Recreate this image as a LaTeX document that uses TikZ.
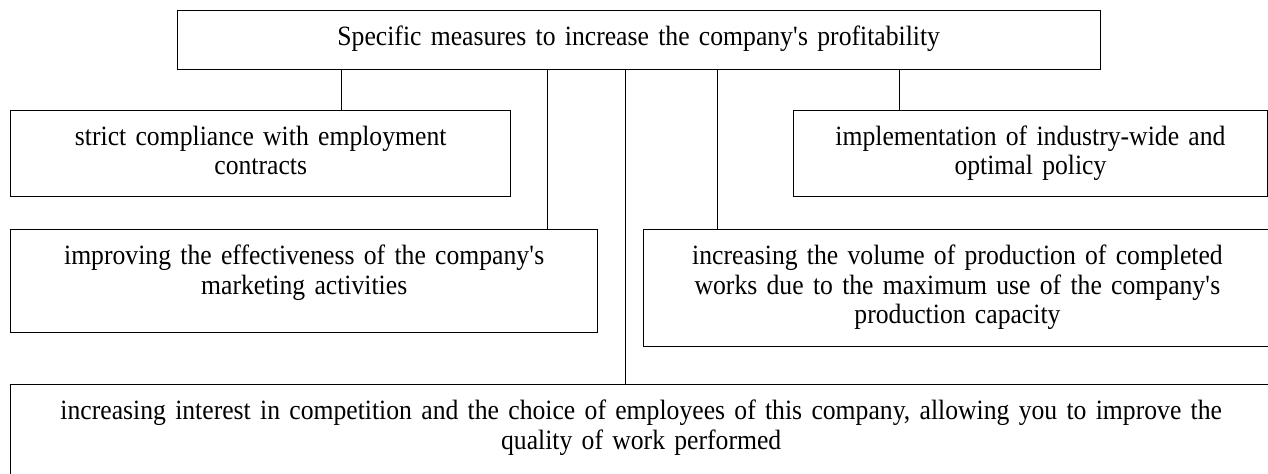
\documentclass[tikz,border=0pt]{standalone}
\usepackage{fontspec}
\setmainfont{Liberation Serif}[FakeStretch=0.92,WordSpace=0.82]
\usetikzlibrary{positioning}
\tikzset{
    %Define style for boxes, text hung from the top edge
    blok/.style 2 args={
           rectangle,
           draw=black, line width=0.7pt,
           anchor=north west,
           inner sep=0pt,
           text width=#1,
           text height=17.5pt,
           text depth=#2,
           align=center,
           font=\fontsize{13.95pt}{14.75pt}\selectfont},
    % Define line style
    lin/.style={
           line width=0.6pt}
}
\begin{document}
\begin{tikzpicture}
    \useasboundingbox (0,0) rectangle (634pt,-236.5pt);
    \node (measures) [blok={461.5pt}{12.25pt}] at (88.25pt,-4.75pt)
          {Specific measures to increase the company\textquotesingle s profitability};
    \node (strict) [blok={250pt}{25.5pt}] at (5pt,-54.75pt)
          {strict compliance with employment\\contracts};
    \node (policy) [blok={236.75pt}{25.5pt}] at (396.5pt,-54.75pt)
          {implementation of industry-wide and\\optimal policy};
    \node (marketing) [blok={293.5pt}{34pt}] at (5pt,-114.5pt)
          {improving the effectiveness of the company\textquotesingle s\\marketing activities};
    \node (capacity) [blok={314.25pt}{41pt}] at (321.25pt,-114.5pt)
          {increasing the volume of production of completed\\works due to the maximum use of the company\textquotesingle s\\production capacity};
    \node (interest) [blok={630.5pt}{32.5pt}] at (5pt,-192pt)
          {increasing interest in competition and the choice of employees of this company, allowing you to improve the\\quality of work performed};
    \draw[lin] ([xshift=40.35pt]strict.north) -- ([xshift=40.35pt]strict.north |- measures.south);
    \draw[lin] ([xshift=121.75pt]marketing.north) -- ([xshift=121.75pt]marketing.north |- measures.south);
    \draw[lin] ([xshift=-8pt]interest.north) -- ([xshift=-8pt]interest.north |- measures.south);
    \draw[lin] ([xshift=-119.9pt]capacity.north) -- ([xshift=-119.9pt]capacity.north |- measures.south);
    \draw[lin] ([xshift=-65.6pt]policy.north) -- ([xshift=-65.6pt]policy.north |- measures.south);
\end{tikzpicture}
\end{document}
